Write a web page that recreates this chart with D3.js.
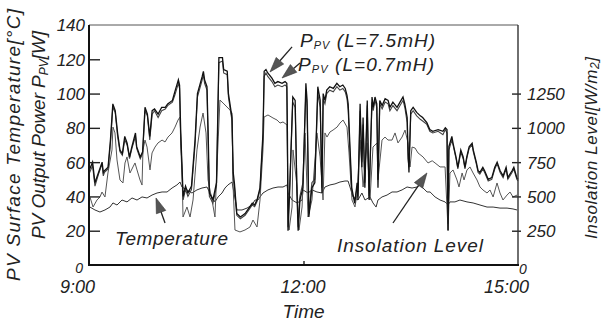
<!DOCTYPE html>
<html><head><meta charset="utf-8">
<script src="https://cdn.jsdelivr.net/npm/d3@7"></script>
<style>
html,body{margin:0;padding:0;background:#fff;}
svg{display:block;font-family:"Liberation Sans",Arial,sans-serif;font-style:italic;}
</style></head>
<body><svg id="c" width="603" height="322"></svg>
<script>
// ---- data (time in minutes after 9:00) ----
const timeTicks = [0, 180, 360];
const timeLabels = ["9:00", "12:00", "15:00"];
const leftTicks = [0, 20, 40, 60, 80, 100, 120, 140];
const rightTicks = [0, 250, 500, 750, 1000, 1250];

const pv75 = [[0,55],[3,60],[5,48],[8,54],[11,60],[12,54],[13,55],[16,57],[18,73],[20,94],[22,90],[24,77],[26,67],[28,65],[30,75],[32,71],[34,63],[36,69],[39,77],[40,69],[43,63],[45,66],[47,92],[49,88],[51,75],[53,90],[55,91],[58,88],[61,92],[64,92],[66,94],[70,96],[72,101],[75,108],[76,105],[77,77],[79,40],[81,46],[83,42],[86,46],[89,73],[91,100],[95,110],[96,113],[97,108],[99,104],[100,77],[101,42],[104,38],[107,48],[109,121],[112,121],[113,114],[116,113],[117,100],[120,86],[121,54],[122,48],[124,30],[127,28],[131,30],[133,32],[137,36],[139,35],[141,38],[143.5,45],[146,77],[147,113],[148.5,114],[150,112],[153.5,109],[156,106],[158.5,107],[162,106],[164.5,107],[166,106],[166.5,77],[167,20],[168.5,45],[171,98],[173,96],[174.5,42],[175.5,20],[177,38],[179.5,45],[182,106],[183,96],[184.5,28],[187,45],[189.5,48],[192,104],[194,96],[195.5,42],[196.5,100],[198,96],[199.5,102],[202,104],[205,103],[208,106],[210.5,104],[213,105],[215,103],[216.5,99],[217.5,94],[219,69],[220.5,45],[223,36],[225,48],[225.7,38],[227.5,94],[229,57],[230,86],[231.5,45],[233.5,96],[235,38],[237.5,98],[238.5,92],[240,98],[241.5,94],[242.5,45],[244,96],[246,93],[248.5,97],[251,96],[252.5,92],[255,95],[258.5,92],[261,95],[263.5,98],[265,94],[267,86],[267.7,67],[268.5,54],[270,90],[272,92],[275,89],[278,87],[280,86],[283.5,83],[286,79],[288.5,78],[293,79],[297,78],[299,80],[300.4,79],[301.3,20],[302,69],[304.5,75],[305.5,71],[308,63],[309.5,57],[312,67],[314,63],[315.5,57],[317,63],[319,69],[321.5,71],[322.5,67],[325,60],[326.5,55],[328,54],[330.5,57],[332,55],[335,50],[338,51],[340.5,57],[342.5,60],[345,55],[347.5,52],[350,57],[351.5,51],[355,55],[356.5,57],[359,51],[360,50]];

const pv07 = [[0,53],[3,58],[5,46],[8,53],[11,59],[12,52],[13,54],[16,56],[18,71],[20,92],[22,89],[24,75],[26,66],[28,64],[30,73],[32,70],[34,62],[36,68],[39,75],[40,68],[43,62],[45,65],[47,90],[49,87],[51,73],[53,88],[55,90],[58,86],[61,90],[64,91],[66,93],[70,95],[72,99],[75,106],[76,103],[77,70],[79,38],[81,44],[83,40],[86,44],[89,70],[91,98],[95,108],[96,111],[97,106],[99,102],[100,70],[101,40],[104,36],[107,46],[109,118],[112,119],[113,112],[116,111],[117,98],[120,84],[121,50],[122,46],[124,29],[127,27],[131,29],[133,31],[137,35],[139,34],[141,37],[143.5,44],[146,74],[147,110],[148.5,112],[150,110],[153.5,107],[156,104],[158.5,105],[162,104],[164.5,105],[166,104],[166.5,70],[167,22],[168.5,48],[171,95],[173,92],[174.5,45],[175.5,22],[177,40],[179.5,48],[182,102],[183,92],[184.5,30],[187,48],[189.5,50],[192,100],[194,92],[195.5,45],[196.5,97],[198,94],[199.5,100],[202,102],[205,101],[208,104],[210.5,102],[213,103],[215,101],[216.5,97],[217.5,90],[219,65],[220.5,42],[223,38],[225,45],[225.7,40],[227.5,90],[229,60],[230,82],[231.5,48],[233.5,93],[235,40],[237.5,95],[238.5,90],[240,96],[241.5,92],[242.5,50],[244,94],[246,91],[248.5,95],[251,94],[252.5,90],[255,93],[258.5,90],[261,93],[263.5,96],[265,92],[267,83],[267.7,62],[268.5,57],[270,88],[272,90],[275,87],[278,85],[280,84],[283.5,82],[286,78],[288.5,77],[293,78],[297,76],[299,79],[300.4,77],[301.3,24],[302,67],[304.5,73],[305.5,70],[308,62],[309.5,56],[312,66],[314,62],[315.5,56],[317,62],[319,68],[321.5,70],[322.5,66],[325,59],[326.5,54],[328,53],[330.5,56],[332,54],[335,49],[338,50],[340.5,56],[342.5,59],[345,54],[347.5,51],[350,56],[351.5,50],[355,54],[356.5,56],[359,50],[360,49]];

const insolation = [[0.8,496],[3.4,423],[6.7,474],[9.2,496],[10.9,532],[13.4,496],[15.9,671],[19.3,839],[20.1,1006],[21.8,963],[23.5,766],[26,620],[28.5,598],[30.2,744],[31.9,788],[34.4,671],[36.9,715],[38.6,744],[40.3,693],[42.8,620],[44.5,583],[45.3,839],[47,911],[48.7,860],[51.2,693],[52.9,817],[55.4,860],[57.9,890],[61.3,911],[63.8,897],[66.3,933],[69.7,963],[72.2,1006],[74.7,1057],[76.4,1079],[78,715],[78.9,350],[82.2,423],[84.8,350],[87.3,474],[90.6,839],[93.2,1006],[95.7,1108],[98.2,963],[99.9,620],[103.2,474],[105.7,350],[107.4,715],[109.9,1203],[112.5,1181],[115.8,1152],[118.3,1130],[120,1108],[120.8,598],[122.5,255],[126.7,241],[130.9,255],[135.1,277],[137.6,328],[141,277],[143.5,474],[146,839],[146.9,1079],[150.2,1094],[154.4,1072],[157.8,1057],[160.3,1035],[162.8,1043],[166.2,1021],[167,474],[167.9,255],[170.4,423],[171.2,839],[174.6,569],[176.2,255],[178.8,423],[181.3,963],[183.8,350],[187.1,474],[191.3,963],[193.9,788],[196.4,474],[198,963],[199.7,933],[202.2,970],[204.8,984],[208.2,1006],[210.6,1035],[213.2,1057],[216.5,1006],[218.2,817],[220.7,474],[223.2,423],[225,525],[227.4,911],[230,569],[233.3,890],[235.8,474],[238.3,860],[241.7,890],[242.5,620],[245.9,911],[248.4,933],[250.9,911],[254.3,911],[256.8,963],[259.3,890],[262.7,933],[265.2,984],[267.7,890],[269.4,715],[271.1,860],[273.6,853],[276.1,817],[280.3,788],[284.5,744],[288,760],[290.4,744],[294.6,715],[298.8,715],[301.3,255],[302.9,671],[305.5,693],[308.8,620],[310.5,569],[313.1,671],[314.7,620],[317.2,693],[319.7,715],[322.3,671],[325.6,620],[328.1,569],[330.6,547],[334,525],[336.5,547],[339.1,496],[342.4,598],[344.9,525],[347.4,474],[350.8,510],[353.3,532],[355.8,496],[359.2,510]];

const temperature = [[0.8,33.8],[5,32.1],[9.2,30.9],[13.4,32.1],[17.6,33.8],[20.1,36.2],[23.5,35],[27.7,37.9],[31.9,36.8],[36.1,39.1],[40.3,37.9],[44.5,39.7],[48.7,39.1],[52.9,40.8],[57.1,42],[61.3,42.6],[65.5,42.6],[69.7,44.9],[73.8,46.7],[76.4,48.4],[78,45.5],[82.2,43.8],[86.4,42],[90.6,43.8],[94.8,44.9],[99,45.5],[103.2,39.7],[105.7,36.8],[108.3,39.7],[111.6,42],[114.1,44.9],[116.6,46.7],[120,48.4],[121.7,42],[124.2,32.1],[128.4,32.1],[132.6,33.2],[136.8,35],[139.3,37.9],[141.8,37.9],[143.5,39.7],[146,42],[150.2,43.8],[154.4,44.9],[158.6,45.5],[162.8,45.5],[166.2,46.7],[167,42],[170.4,37.9],[174.6,36.2],[178.8,37.9],[179.6,43.8],[183.8,42],[187.1,43.8],[191.3,42.6],[195.5,42],[198,45.5],[202.2,46.7],[206.4,47.3],[210.6,48.4],[214.8,49],[217.4,49],[219,45.5],[221.6,39.7],[225.7,37.9],[229,42],[231.6,37.9],[235.8,39.7],[238.3,36.2],[240.9,33.8],[242.5,37.9],[245.9,39.7],[250.1,40.8],[254.3,42.6],[258.5,42.6],[262.7,43.8],[266.9,45.5],[271.1,44.9],[275.3,45.5],[277.8,46.7],[280.3,44.9],[283.7,42.6],[286.2,42.6],[290.4,39.7],[294.6,37.9],[298.8,36.8],[301.3,35],[302.9,36.8],[307.1,36.8],[311.3,37.9],[317.2,36.8],[322.3,36.2],[328.1,35],[334,33.8],[339.1,33.8],[344.9,33.2],[350.8,33.2],[355.8,32.7],[359.2,32.1]];

// annotations (data units: [minutes, left-axis value])
const arrows = [
  {tail:[63.8,24.5], tip:[56.2,39.1]},
  {tail:[255.1,24.5], tip:[283.6,53.7]},
  {tail:[170.4,127.2], tip:[151.9,112.6]},
  {tail:[177.1,117.8], tip:[162,109.1]}
];

// ---- chart ----
const svg = d3.select("#c");
const L = 89, R = 518, T = 25, B = 265;
const x = d3.scaleLinear().domain([0, 360]).range([L, R]);
const yL = d3.scaleLinear().domain([0, 140]).range([B, T]);
const yR = d3.scaleLinear().domain([0, 1750]).range([B, T]);

const lineL = d3.line().x(d => x(d[0])).y(d => yL(d[1]));
const lineR = d3.line().x(d => x(d[0])).y(d => yR(d[1]));

const plot = svg.append("g");
plot.append("path").datum(temperature).attr("d", lineL)
  .attr("fill","none").attr("stroke","#333").attr("stroke-width",1);
plot.append("path").datum(insolation).attr("d", lineR)
  .attr("fill","none").attr("stroke","#555").attr("stroke-width",1);
plot.append("path").datum(pv07).attr("d", lineL)
  .attr("fill","none").attr("stroke","#444").attr("stroke-width",1.1);
plot.append("path").datum(pv75).attr("d", lineL)
  .attr("fill","none").attr("stroke","#111").attr("stroke-width",1.3);

// axes
const gl = svg.append("g").attr("transform",`translate(${L},0)`)
  .call(d3.axisLeft(yL).tickValues(leftTicks).tickSizeInner(-11).tickSizeOuter(0).tickPadding(4));
const gr = svg.append("g").attr("transform",`translate(${R},0)`)
  .call(d3.axisRight(yR).tickValues(rightTicks).tickFormat(d3.format("d")).tickSizeInner(3).tickSizeOuter(0).tickPadding(6));
const gb = svg.append("g").attr("transform",`translate(0,${B})`)
  .call(d3.axisBottom(x).tickValues(timeTicks).tickFormat((d,i)=>timeLabels[i]).tickSizeInner(-4).tickSizeOuter(0).tickPadding(0));

[gl,gr,gb].forEach(g=>{
  g.select(".domain").remove();
  g.selectAll("line").attr("stroke","#222").attr("stroke-width",1.4);
  g.selectAll("text").attr("fill","#222").attr("font-family","Liberation Sans, Arial, sans-serif").attr("font-style","italic");
});
gl.selectAll("text").attr("font-size",17).attr("dy","0.35em");
gl.selectAll(".tick").filter(d=>d===0||d===140).select("line").remove();
gl.selectAll(".tick").filter(d=>d===0).select("text").attr("font-size",14).attr("dy","0.55em").attr("x",-6);
gr.selectAll("line").attr("x1",-6).attr("x2",3);
gr.selectAll("text").attr("font-size",17).attr("dy","0.35em");
gr.selectAll(".tick").filter(d=>d===0).select("line").remove();
gr.selectAll(".tick").filter(d=>d===0).select("text").attr("font-size",14).attr("x",1).attr("dy","0.6em");
gb.selectAll(".tick").filter(d=>d!==180).select("line").remove();
gb.selectAll("text").attr("font-size",18).attr("y",28).attr("dy",0)
  .attr("dx",d=> d===180 ? -1 : -12);

// frame
svg.append("line").attr("x1",L).attr("x2",R).attr("y1",T).attr("y2",T).attr("stroke","#555").attr("stroke-width",1);
svg.append("line").attr("x1",R).attr("x2",R).attr("y1",T).attr("y2",B).attr("stroke","#333").attr("stroke-width",1.4);
svg.append("line").attr("x1",L-1).attr("x2",R+1).attr("y1",B).attr("y2",B).attr("stroke","#111").attr("stroke-width",2);
svg.append("line").attr("x1",L).attr("x2",L).attr("y1",T).attr("y2",B+1).attr("stroke","#111").attr("stroke-width",2);

// axis titles
const ft = (sel, size) => sel.attr("font-size",size).attr("fill","#222").attr("font-style","italic");
ft(svg.append("text").attr("transform","translate(20,145) rotate(-90)").attr("text-anchor","middle")
  .attr("textLength",272).attr("lengthAdjust","spacing")
  .text("PV Surface Temperature[°C]"), 19);
const t2 = ft(svg.append("text").attr("transform","translate(45,135) rotate(-90)").attr("text-anchor","middle")
  .attr("textLength",208).attr("lengthAdjust","spacing"), 19);
t2.append("tspan").text("PV Output Power P");
t2.append("tspan").text("PV").attr("font-size",12).attr("dy",3);
t2.append("tspan").text("[W]").attr("dy",-3);
const t3 = ft(svg.append("text").attr("transform","translate(597,148) rotate(-90)").attr("text-anchor","middle")
  .attr("textLength",182).attr("lengthAdjust","spacing"), 17);
t3.append("tspan").text("Insolation Level[W/m");
t3.append("tspan").text("2").attr("font-size",12).attr("dy",2);
t3.append("tspan").text("]").attr("dy",-2);
ft(svg.append("text").attr("x",x(180)).attr("y",318).attr("text-anchor","middle").text("Time"), 19);

// annotations
ft(svg.append("text").attr("x",x(21.8)).attr("y",yL(11.7)).attr("textLength",113).attr("lengthAdjust","spacing").text("Temperature"), 19);
ft(svg.append("text").attr("x",x(208.1)).attr("y",yL(7.6)).attr("textLength",146).attr("lengthAdjust","spacing").text("Insolation Level"), 19);
const p1 = ft(svg.append("text").attr("x",x(177.1)).attr("y",yL(127.2)).attr("textLength",135).attr("lengthAdjust","spacing"), 19);
p1.append("tspan").text("P");
p1.append("tspan").text("PV").attr("font-size",11).attr("dy",2);
p1.append("tspan").text(" (L=7.5mH)").attr("dy",-2);
const p2 = ft(svg.append("text").attr("x",x(175.4)).attr("y",yL(113.2)).attr("textLength",136).attr("lengthAdjust","spacing"), 19);
p2.append("tspan").text("P");
p2.append("tspan").text("PV").attr("font-size",11).attr("dy",2);
p2.append("tspan").text(" (L=0.7mH)").attr("dy",-2);

arrows.forEach(a=>{
  const x0=x(a.tail[0]), y0=yL(a.tail[1]), x1=x(a.tip[0]), y1=yL(a.tip[1]);
  const ang=Math.atan2(y1-y0,x1-x0), hl=15, hw=5;
  const bx=x1-hl*Math.cos(ang), by=y1-hl*Math.sin(ang);
  svg.append("line").attr("x1",x0).attr("y1",y0).attr("x2",bx).attr("y2",by).attr("stroke","#222").attr("stroke-width",1.3);
  const px=-Math.sin(ang)*hw, py=Math.cos(ang)*hw;
  svg.append("path").attr("d",`M${x1},${y1}L${bx+px},${by+py}L${bx-px},${by-py}Z`).attr("fill","#555").attr("stroke","#333").attr("stroke-width",0.6);
});
</script></body></html>
